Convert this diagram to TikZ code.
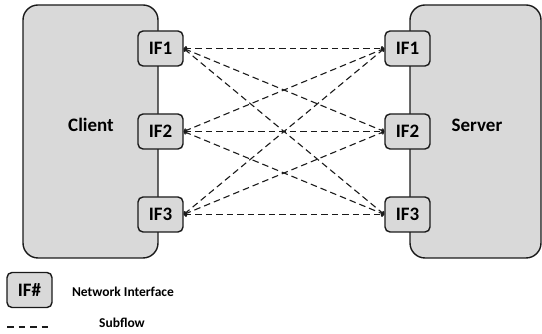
\documentclass[tikz,border=0pt]{standalone}
\usepackage{fontspec}
\setmainfont{Carlito}
\usetikzlibrary{arrows.meta}
\definecolor{boxgray}{HTML}{D9D9D9}
\definecolor{edge}{HTML}{1A1A1A}
\begin{document}
\begin{tikzpicture}[x=1pt,y=1pt,
  host/.style={draw=edge,fill=boxgray,line width=1.4pt,rounded corners=15pt,minimum width=#1,minimum height=253pt,inner sep=0pt},
  iface/.style={draw=edge,fill=boxgray,line width=1.4pt,rounded corners=5pt,minimum width=45pt,minimum height=35pt,inner sep=0pt,font=\bfseries\fontsize{19}{20}\selectfont},
  hostlabel/.style={font=\bfseries\fontsize{19}{20}\selectfont},
  legendtext/.style={font=\bfseries\fontsize{13.5}{15}\selectfont},
  subflow/.style={dashed,dash pattern=on 6.5pt off 4pt,line width=1.1pt,edge,{To[length=3pt,width=5pt]}-{To[length=3pt,width=5pt]}}
]
\useasboundingbox (0,0) rectangle (542,334);
% hosts
\node[host=135pt] (client) at (90.5,202.5) {};
\node[host=131pt] (server) at (475.5,202.5) {};
\node[hostlabel] (clientlbl) at (91,209) {Client};
\node[hostlabel] (serverlbl) at (477,209) {Server};
% interfaces
\node[iface] (c1) at (160.5,285.5) {IF1};
\node[iface] (c2) at (160.5,202.5) {IF2};
\node[iface] (c3) at (160.5,119.5) {IF3};
\node[iface] (s1) at (407.5,285.5) {IF1};
\node[iface] (s2) at (407.5,202.5) {IF2};
\node[iface] (s3) at (407.5,119.5) {IF3};
% subflows
\foreach \a in {1,2,3}{
  \foreach \b in {1,2,3}{
    \draw[subflow] (c\a.east) -- (s\b.west);
  }
}
% legend
\node[iface] (legbox) at (29.5,44) {IF\#};
\node[legendtext] (legif) at (123,42) {Network Interface};
\coordinate (dashA) at (7,7);
\coordinate (dashB) at (48,7);
\draw[dashed,dash pattern=on 6.5pt off 5pt,line width=1.1pt,edge] (dashA) -- (dashB);
\node[legendtext] (legsub) at (122,11) {Subflow};
\end{tikzpicture}
\end{document}
